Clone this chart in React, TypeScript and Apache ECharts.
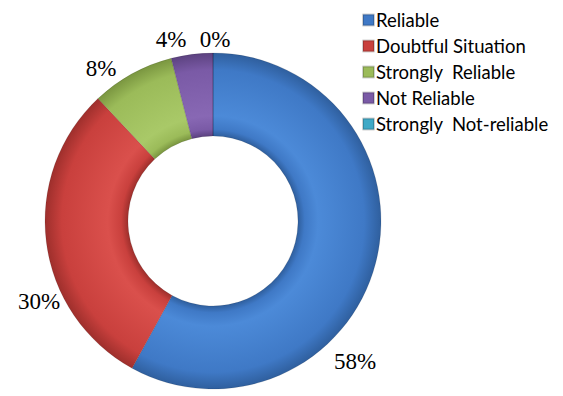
import React, { useEffect, useRef } from "react";
import * as echarts from "echarts";

const categories = ["Reliable", "Doubtful Situation", "Strongly  Reliable", "Not Reliable", "Strongly  Not-reliable"];
const values = [58, 30, 8, 4, 0];
const labelTexts = ["58%", "30%", "8%", "4%", "0%"];
const colors = ["#3F79C6", "#C9403D", "#9BBB59", "#7A5AA6", "#3FA9C6"];
const darkColors = ["#2F5F9E", "#9E2F2C", "#7A9640", "#5C4280", "#2F88A0"];
const lightColors = ["#4C8AD8", "#DA504C", "#A9C968", "#8868B4", "#52BAD6"];
const labelPos: [number, number][] = [[355, 361], [39, 301], [101, 68], [171, 39], [215, 39]];

const CX = 213;
const CY = 221;
const R_IN = 85;
const R_OUT = 168;

function ringGradient(i: number) {
  const a = R_IN / R_OUT;
  return {
    type: "radial",
    x: CX,
    y: CY,
    r: R_OUT,
    global: true,
    colorStops: [
      { offset: 0, color: darkColors[i] },
      { offset: a, color: darkColors[i] },
      { offset: a + 0.04, color: colors[i] },
      { offset: a + 0.12, color: lightColors[i] },
      { offset: 0.9, color: colors[i] },
      { offset: 1, color: darkColors[i] },
    ],
  };
}

export default function App() {
  const ref = useRef<HTMLDivElement>(null);
  useEffect(() => {
    document.body.style.margin = "0";
    if (!ref.current) return;
    const chart = echarts.init(ref.current, null, { renderer: "svg" });
    chart.setOption({
      animation: false,
      legend: {
        orient: "vertical",
        left: 357,
        top: 5,
        itemWidth: 11,
        itemHeight: 11,
        itemGap: 6,
        icon: "rect",
        data: categories.map((name, i) => ({ name, itemStyle: { color: colors[i] } })),
        textStyle: { fontFamily: "Lato", fontSize: 18.5, color: "#000", lineHeight: 20, padding: [0, 0, 0, -3] },
      },
      series: [
        {
          type: "pie",
          center: [CX, CY],
          radius: [R_IN, R_OUT],
          startAngle: 90,
          clockwise: true,
          minAngle: 0,
          avoidLabelOverlap: false,
          itemStyle: { borderColor: "rgba(0,0,0,0.18)", borderWidth: 0.6 },
          label: {
            show: true,
            position: "outside",
            fontFamily: "'Liberation Serif', 'Times New Roman', serif",
            fontSize: 23,
            color: "#000",
            formatter: (p: any) => labelTexts[p.dataIndex],
          },
          labelLine: { show: false },
          labelLayout: (p: any) => ({ x: labelPos[p.dataIndex][0], y: labelPos[p.dataIndex][1], align: "center", verticalAlign: "middle" }),
          data: categories.map((name, i) => ({
            name,
            value: values[i],
            itemStyle: { color: ringGradient(i) },
          })),
        },
      ],
    });
    return () => chart.dispose();
  }, []);
  return <div ref={ref} style={{ width: 563, height: 396 }} />;
}
